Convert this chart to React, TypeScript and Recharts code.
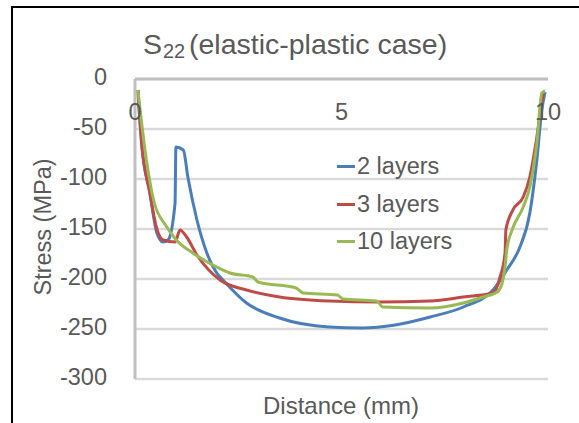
import { LineChart, Line, XAxis, YAxis, CartesianGrid, Legend, ReferenceLine } from 'recharts';

// Values (distance in mm, stress in MPa)
const twoLayerDistance = [0.07, 0.16, 0.36, 0.53, 0.68, 0.8, 0.97, 0.99, 1.17, 1.28, 1.5, 1.74, 1.98, 2.13, 2.7, 3.5, 4.7, 5.5, 6.3, 7.15, 7.95, 8.67, 9.0, 9.32, 9.56, 9.73, 9.85, 9.93];
const twoLayerStress = [-11, -64, -114, -154, -163, -161, -124, -68, -71, -98, -141, -174, -194, -201, -224, -239, -248, -249, -246, -238, -228, -211, -191, -168, -134, -81, -31, -13];

const threeLayerDistance = [0.07, 0.16, 0.36, 0.53, 0.68, 0.97, 1.09, 1.25, 1.5, 2.06, 2.7, 3.5, 4.7, 5.9, 7.15, 7.95, 8.67, 8.84, 8.96, 8.98, 9.15, 9.4, 9.56, 9.73, 9.88];
const threeLayerStress = [-11, -64, -114, -150, -161, -163, -151, -158, -176, -201, -211, -218, -222, -223, -222, -218, -214, -198, -174, -151, -131, -118, -98, -58, -14];

const tenLayerDistance = [0.07, 0.22, 0.45, 0.77, 1.0, 1.4, 1.98, 2.3, 2.85, 2.98, 3.9, 4.07, 4.9, 5.04, 5.85, 6.0, 7.15, 7.95, 8.43, 8.77, 8.89, 8.96, 9.0, 9.13, 9.4, 9.56, 9.73, 9.85, 9.93];
const tenLayerStress = [-11, -64, -121, -148, -161, -174, -188, -194, -198, -203, -209, -214, -216, -220, -222, -228, -229, -224, -218, -213, -204, -188, -171, -151, -128, -108, -64, -14, -12];

const seriesNames = ['2 layers', '3 layers', '10 layers'];
const xTicks = [0, 5, 10];
const yTicks = [0, -50, -100, -150, -200, -250, -300];

const TEXT = '#595959';
const FONT = '"Liberation Sans", Arial, sans-serif';

const toPoints = (xs: number[], ys: number[]) =>
  xs.map((x, i) => ({ distance: x, stress: ys[i] }));

const YTick = (props: any) => (
  <text x={107} y={props.y + 6} textAnchor="end" fill={TEXT} fontSize={23.5} fontFamily={FONT}>
    {props.payload.value}
  </text>
);

const XTick = (props: any) => (
  <text x={props.x} y={120} textAnchor="middle" fill={TEXT} fontSize={23.5} fontFamily={FONT}>
    {props.payload.value}
  </text>
);

const LegendBox = (props: any) => {
  const items = [...(props.payload || [])].sort(
    (a: any, b: any) => seriesNames.indexOf(a.value) - seriesNames.indexOf(b.value)
  );
  return (
    <div>
      {items.map((entry: any) => (
        <div key={entry.value} style={{ display: 'flex', alignItems: 'center', height: 37.5 }}>
          <span style={{ width: 18, height: 3, background: entry.color, marginRight: 2 }} />
          <span style={{ color: TEXT, fontSize: 23.5, fontFamily: FONT, lineHeight: 1 }}>{entry.value}</span>
        </div>
      ))}
    </div>
  );
};

const App = () => {
  return (
    <div style={{ position: 'fixed', left: 0, top: 0, width: 579, height: 423, background: 'white', overflow: 'hidden' }}>
      <LineChart width={579} height={423} margin={{ top: 79, right: 31, bottom: 0, left: 0 }}>
        <CartesianGrid vertical={false} stroke="#d9d9d9" strokeWidth={2.5} />
        <XAxis
          dataKey="distance"
          type="number"
          domain={[0, 10]}
          ticks={xTicks}
          allowDataOverflow={true}
          axisLine={false}
          tickLine={false}
          height={44}
          tick={<XTick />}
        />
        <YAxis
          type="number"
          domain={[-300, 0]}
          ticks={yTicks}
          width={135}
          axisLine={{ stroke: '#bfbfbf', strokeWidth: 3 }}
          tickLine={false}
          tick={<YTick />}
        />
        <ReferenceLine y={0} stroke="#bfbfbf" strokeWidth={3} />
        <Legend
          layout="vertical"
          align="center"
          verticalAlign="middle"
          wrapperStyle={{ position: 'absolute', left: 337, top: 148, width: 'auto' }}
          content={<LegendBox />}
        />
        <Line
          data={toPoints(twoLayerDistance, twoLayerStress)}
          dataKey="stress"
          name={seriesNames[0]}
          type="monotone"
          stroke="#4a7ebb"
          strokeWidth={3}
          dot={false}
          isAnimationActive={false}
        />
        <Line
          data={toPoints(threeLayerDistance, threeLayerStress)}
          dataKey="stress"
          name={seriesNames[1]}
          type="monotone"
          stroke="#be4b48"
          strokeWidth={3}
          dot={false}
          isAnimationActive={false}
        />
        <Line
          data={toPoints(tenLayerDistance, tenLayerStress)}
          dataKey="stress"
          name={seriesNames[2]}
          type="monotone"
          stroke="#98b954"
          strokeWidth={3}
          dot={false}
          isAnimationActive={false}
        />
      </LineChart>
      <svg width={579} height={423} style={{ position: 'absolute', left: 0, top: 0, pointerEvents: 'none' }}>
        <line x1={11} y1={7} x2={579} y2={7} stroke="#000" strokeWidth={2} />
        <line x1={12} y1={6} x2={12} y2={423} stroke="#000" strokeWidth={2} />
        <text fill={TEXT} fontFamily={FONT}>
          <tspan x={143} y={53.5} fontSize={28.5}>S</tspan>
          <tspan x={163} y={58} fontSize={20}>22</tspan>
          <tspan x={189} y={53.5} fontSize={28.5}>(elastic-plastic case)</tspan>
        </text>
        <text x={341} y={414} textAnchor="middle" fill={TEXT} fontFamily={FONT} fontSize={24}>
          Distance (mm)
        </text>
        <text
          x={0}
          y={0}
          transform="translate(51 227) rotate(-90)"
          textAnchor="middle"
          fill={TEXT}
          fontFamily={FONT}
          fontSize={23.5}
        >
          Stress (MPa)
        </text>
      </svg>
    </div>
  );
};

export default App;
